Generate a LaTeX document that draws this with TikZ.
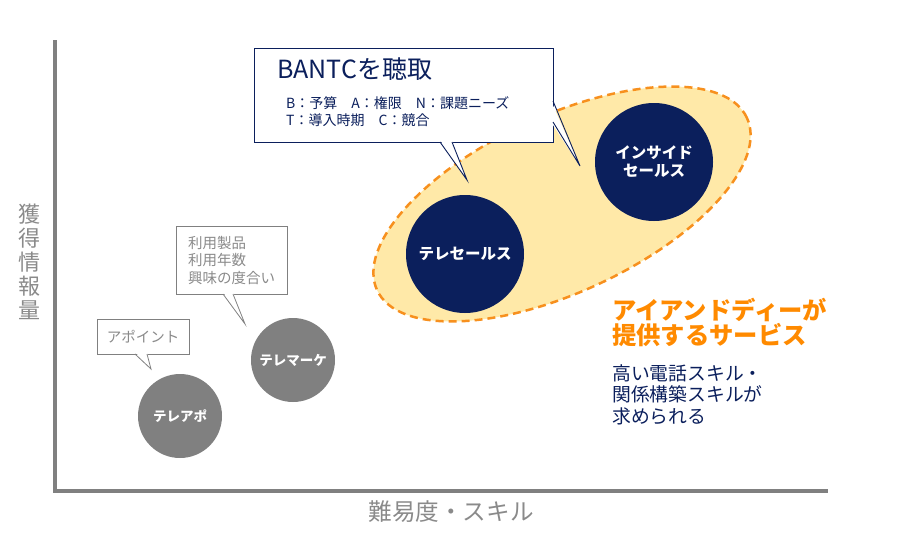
\documentclass[tikz,border=0pt]{standalone}
\usepackage{fontspec}
\setmainfont{Noto Sans CJK JP}
\usetikzlibrary{positioning,shapes.geometric}
\definecolor{navy}{HTML}{0B1F5C}
\definecolor{axisgray}{HTML}{808080}
\definecolor{labelgray}{HTML}{8A8A8A}
\definecolor{dashorange}{HTML}{F7901E}
\definecolor{textorange}{HTML}{FF8A00}
\definecolor{lightyellow}{HTML}{FFE9A8}
\newcommand{\fsz}[2]{\fontsize{#1}{#2}\selectfont}

\begin{document}
\begin{tikzpicture}[x=1pt,y=-1pt,line join=miter,
    navyball/.style={circle,fill=navy,text=white,inner sep=0,minimum size=118pt,align=center,font=\bfseries\fsz{15.5}{18}},
    grayball/.style={circle,fill=axisgray,text=white,inner sep=0,minimum size=84pt,font=\bfseries\fsz{13.5}{16}},
    graynote/.style={draw=axisgray,fill=white,line width=0.8pt,outer sep=0,inner sep=0,align=left,text=labelgray,font=\fsz{14.5}{17.5}},
    navynote/.style={draw=navy,fill=white,line width=0.9pt,outer sep=0,inner sep=0}]
    \useasboundingbox (0,0) rectangle (900,536);
    % axes
    \coordinate (ytop) at (55,40);
    \coordinate (origin) at (55,491);
    \coordinate (xend) at (828,491);
    \draw[axisgray,line width=4pt] (ytop) -- (origin) -- (xend);
    \node[text=labelgray,font=\fsz{22}{24},align=center] (ylabel) at (29,262) {獲\\得\\情\\報\\量};
    \node[text=labelgray,font=\fsz{23.6}{26}] (xlabel) at (451,512) {難易度・スキル};
    % service area
    \node[ellipse,draw=dashorange,fill=lightyellow,line width=2.5pt,dash pattern=on 8pt off 5pt,
        minimum width=408pt,minimum height=176pt,inner sep=0,rotate=25] (service) at (562,204) {};
    \node[navyball] (telesales) at (465,254) {テレセールス};
    \node[navyball] (inside) at (654,162) {インサイド\\セールス};
    \node[grayball] (teleapo) at (180,416) {テレアポ};
    \node[grayball] (telemarke) at (293,360) {テレマーケ};
    % callouts
    \node[navynote,minimum width=299pt,minimum height=94pt] (bantc) at (403.5,95) {};
    \coordinate (tipsales) at (467,180);
    \coordinate (tipinside) at (580,166);
    \fill[white] ([xshift=186pt,yshift=2pt]bantc.south west) -- (tipsales) -- ([xshift=198pt,yshift=2pt]bantc.south west) -- cycle;
    \draw[navy,line width=0.9pt] ([xshift=186pt]bantc.south west) -- (tipsales) -- ([xshift=198pt]bantc.south west);
    \fill[white] ([xshift=-2pt,yshift=-53pt]bantc.north east) -- (tipinside) -- ([xshift=-2pt,yshift=-74pt]bantc.north east) -- cycle;
    \draw[navy,line width=0.9pt] ([yshift=-53pt]bantc.north east) -- (tipinside) -- ([yshift=-74pt]bantc.north east);
    \node[anchor=west,inner sep=0,text=navy,font=\fsz{25}{28}] (bantctitle) at (277,69) {BANTCを聴取};
    \node[anchor=west,inner sep=0,text=navy,font=\fsz{14}{17},align=left] (bantcitems) at (286,111.5) {B：予算　A：権限　N：課題ニーズ\\T：導入時期　C：競合};
    \node[graynote,minimum width=111pt,minimum height=68pt] (usage) at (231.5,260) {利用製品\\利用年数\\興味の度合い};
    \coordinate (tipmarke) at (245,324);
    \fill[white] ([xshift=47pt,yshift=2pt]usage.south west) -- (tipmarke) -- ([xshift=57pt,yshift=2pt]usage.south west) -- cycle;
    \draw[axisgray,line width=0.8pt] ([xshift=47pt]usage.south west) -- (tipmarke) -- ([xshift=57pt]usage.south west);
    \node[graynote,minimum width=92pt,minimum height=35pt] (appoint) at (143,336.5) {アポイント};
    \coordinate (tipapo) at (151,369);
    \fill[white] ([xshift=38pt,yshift=2pt]appoint.south west) -- (tipapo) -- ([xshift=50pt,yshift=2pt]appoint.south west) -- cycle;
    \draw[axisgray,line width=0.8pt] ([xshift=38pt]appoint.south west) -- (tipapo) -- ([xshift=50pt]appoint.south west);
    % texts
    \node[anchor=west,inner sep=0,text=textorange,font=\bfseries\fsz{24.3}{25},align=left] (idsvc) at (612,322.5) {アイアンドディーが\\提供するサービス};
    \node[anchor=west,inner sep=0,text=navy,font=\fsz{18.8}{21.5},align=left] (skill) at (612,394.5) {高い電話スキル・\\関係構築スキルが\\求められる};
\end{tikzpicture}
\end{document}
